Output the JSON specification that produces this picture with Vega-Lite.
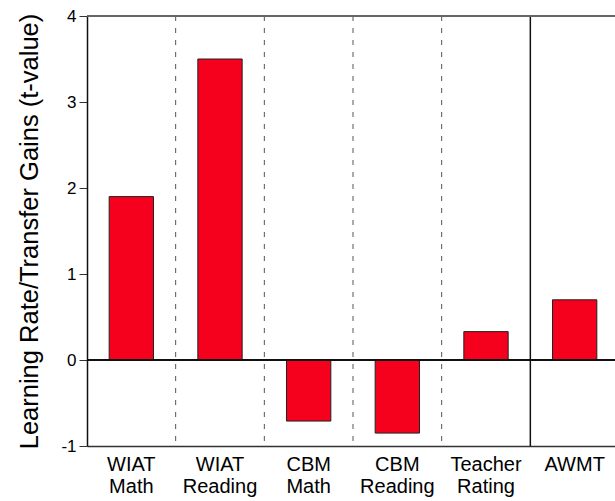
{
  "$schema": "https://vega.github.io/schema/vega-lite/v6.json",
  "autosize": {"type": "none"},
  "padding": {"left": 87, "top": 16, "right": 0, "bottom": 55},
  "width": 532,
  "height": 430,
  "config": {
    "view": {"stroke": null},
    "font": "Liberation Sans",
    "axis": {"grid": false, "labelColor": "black", "titleColor": "black"}
  },
  "data": {
    "values": [
      {"measure": "WIAT Math", "t": 1.9},
      {"measure": "WIAT Reading", "t": 3.5},
      {"measure": "CBM Math", "t": -0.71},
      {"measure": "CBM Reading", "t": -0.85},
      {"measure": "Teacher Rating", "t": 0.33},
      {"measure": "AWMT", "t": 0.7}
    ]
  },
  "layer": [
    {
      "mark": {"type": "bar", "color": "#f5001d", "stroke": "#222", "strokeWidth": 1, "width": {"band": 0.5}},
      "encoding": {
        "x": {
          "field": "measure", "type": "nominal", "sort": null,
          "scale": {"paddingInner": 0, "paddingOuter": 0},
          "axis": {
            "title": null, "labelAngle": 0, "ticks": false, "domain": true, "domainColor": "#333", "domainWidth": 1.5,
            "labelFontSize": 20, "labelPadding": 8, "labelLineHeight": 22,
            "labelExpr": "split(datum.label, ' ')"
          }
        },
        "y": {
          "field": "t", "type": "quantitative",
          "scale": {"domain": [-1, 4], "nice": false},
          "axis": {
            "title": "Learning Rate/Transfer Gains (t-value)",
            "titleFontSize": 25.5, "titleFontWeight": "normal", "titlePadding": 18,
            "values": [-1, 0, 1, 2, 3, 4], "tickSize": 8, "tickColor": "#333",
            "domainColor": "#111", "domainWidth": 1.5,
            "labelFontSize": 17, "labelPadding": 3,
            "labelExpr": "'' + datum.value"
          }
        }
      }
    },
    {
      "transform": [{"filter": "datum.measure != 'Teacher Rating' && datum.measure != 'AWMT'"}],
      "mark": {"type": "rule", "color": "#555", "strokeDash": [5, 7], "strokeWidth": 1},
      "encoding": {
        "x": {"field": "measure", "type": "nominal", "sort": null, "bandPosition": 1}
      }
    },
    {
      "transform": [{"filter": "datum.measure == 'Teacher Rating'"}],
      "mark": {"type": "rule", "color": "#111", "strokeWidth": 1.5},
      "encoding": {
        "x": {"field": "measure", "type": "nominal", "sort": null, "bandPosition": 1}
      }
    },
    {
      "mark": {"type": "rule", "color": "#111", "strokeWidth": 1.5},
      "encoding": {"y": {"datum": 0}}
    },
    {
      "mark": {"type": "rule", "color": "#666", "strokeWidth": 1.5},
      "encoding": {"y": {"datum": 4}}
    }
  ]
}
